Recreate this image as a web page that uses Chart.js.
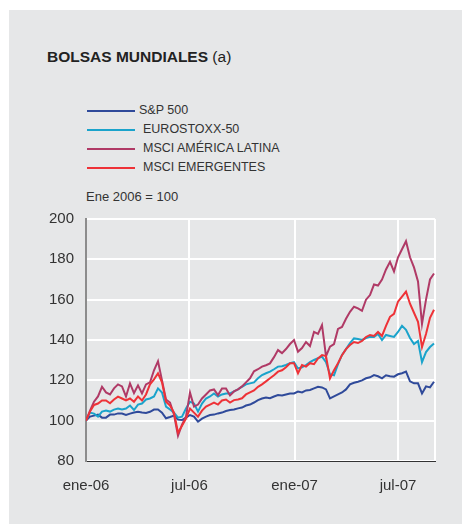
<!DOCTYPE html>
<html>
<head>
<meta charset="utf-8">
<script src="https://cdn.jsdelivr.net/npm/chart.js@4.4.0/dist/chart.umd.min.js"></script>
<style>
  html, body { margin: 0; padding: 0; background: #fff; }
  body { width: 462px; height: 524px; position: relative; overflow: hidden;
         font-family: "Liberation Sans", Arial, sans-serif; color: #333; }
  #panel { position: absolute; left: 9px; top: 10px; width: 453px; height: 514px; background: #e6e7e8; }
  #chartBox { position: absolute; left: 0; top: 0; width: 462px; height: 524px; }
  .title { position: absolute; left: 47px; top: 48px; font-size: 15.5px; color: #222; white-space: nowrap; }
  .title b { font-weight: bold; }
  .leg { position: absolute; left: 87px; font-size: 12.5px; white-space: nowrap; height: 14px; line-height: 14px; }
  .leg span.ln { display: inline-block; width: 48px; height: 2px; vertical-align: middle; margin-right: 4px; }
  .note { position: absolute; left: 86px; top: 189px; font-size: 13px; white-space: nowrap; }
</style>
</head>
<body>
<div id="panel"></div>
<div class="title"><b>BOLSAS MUNDIALES</b> (a)</div>
<div id="legend"></div>
<div class="note">Ene 2006 = 100</div>
<div id="chartBox"><canvas id="myChart" width="462" height="524"></canvas></div>
<script>
// weekly readings, week 0 = first week of Jan 2006
var spValues = [100,102,102.5,103,101.5,101.5,103,103,103.6,103.5,102.8,103.5,104,104.4,104,103.8,104.4,105.5,105.5,104,
  101.2,101.8,102.5,100.5,100.3,101.5,102.8,102,99.5,101,102,102.8,103,103.6,104,104.8,105.3,105.5,106.1,106.5,
  107.5,108,109,110.2,111,111.5,111.1,112,112.7,112.5,113,113.5,113.5,114.4,114,115,115.2,116,116.8,116.5,
  115.5,111,112,113,114,115.5,118,118.8,119.3,120,121,121.5,122.6,122,121,122.5,122,121.8,123,123.5,
  124.3,119.5,118.5,118.5,113.5,117,116.5,119.3];
var euroValues = [100,104,103.5,102,104.5,105,104.5,105.5,106,105.5,106,107.5,105.3,108,108.5,110.5,111,112,116,114,
  107,105.5,104,101.5,102,106,109.4,108.5,104.5,108.5,111,112,113.5,112,113,113.5,113.5,114.5,115.5,116.8,
  118,118.5,119,121,122.6,123.5,124.3,125.5,126.8,127,127.6,128.5,129,125.9,126.5,127.6,129,130.1,131,131.7,
  129,123,122.5,128,132.6,135.5,138.5,140.8,140.5,140,141,141.6,141.5,143,140,142.5,142,141.5,144,147,
  145,141,138,139.5,129,134,136.5,138.3];
var latamValues = [100,105,109.4,112,116.8,114,113,116,118,117,112,118.5,113.7,117.5,113.5,118,119,125,129.5,120,
  110.5,109,103,92.5,98,102,113.9,107,108,111,113,115,115.5,112.7,116,116,112.5,114.5,115.5,117,
  119,121,124.5,125.5,126.8,127.5,128.4,131.5,135,133.5,135.5,138,140,134.2,136,139,137,144,143,147.4,
  132,136.7,138,145.5,146.5,150.5,154,156.5,155.7,154.5,160,162.3,167.5,167,170,175,178.8,174,181,185,
  189,181,176,169,148,160,170,173];
var emergValues = [100,104.5,107.8,108.5,110,110,108.6,110.5,111.9,111,110,111,109.4,112,110,113,118,120.5,123.5,119,
  109.4,107.5,104,94,97.5,101,106,104,102,105,107,108,109,108,110,110.5,109,110.2,110.5,111.1,
  113,114,115,116.8,118,119.5,121,122.5,124.3,125,126.5,128.5,128.5,123.5,127.6,126.8,128.5,128,130.9,132.5,
  132,121,125,128.5,132.5,135.5,137.5,139,138.5,139.5,141.5,142.5,142,144,142,147,151.5,153,159,161.5,
  164,158,153.5,149,136.5,143,151,155];

var seriesNames = ['S&P 500', 'EUROSTOXX-50', 'MSCI AMÉRICA LATINA', 'MSCI EMERGENTES'];
var seriesColors = ['#2f4a9a', '#1aa3cb', '#b03a66', '#ee3237'];

// x ticks in weeks since 1 Jan 2006
var tickWeeks = [0, 181 / 7, 365 / 7, 546 / 7, 87.25];
var tickLabels = ['ene-06', 'jul-06', 'ene-07', 'jul-07', ''];
var yTicks = [80, 100, 120, 140, 160, 180, 200];

function toPoints(values) {
  return values.map(function (v, i) { return {x: i, y: v}; });
}

var allValues = [spValues, euroValues, latamValues, emergValues];

// html legend
var legendDiv = document.getElementById('legend');
var legendTops = [103, 122, 141, 160];
seriesNames.forEach(function (name, i) {
  var d = document.createElement('div');
  d.className = 'leg';
  d.style.top = legendTops[i] + 'px';
  d.innerHTML = '<span class="ln" style="background:' + seriesColors[i] + ';margin-right:' + (i === 0 ? 4 : 8) + 'px"></span>';
  d.appendChild(document.createTextNode(name));
  legendDiv.appendChild(d);
});

var datasets = seriesNames.map(function (name, i) {
  return {
    label: name,
    data: toPoints(allValues[i]),
    borderColor: seriesColors[i],
    borderWidth: 2,
    pointRadius: 0,
    tension: 0,
    fill: false,
    order: 4 - i
  };
});

var ctx = document.getElementById('myChart').getContext('2d');
var myChart = new Chart(ctx, {
  type: 'line',
  data: {datasets: datasets},
  options: {
    responsive: false,
    animation: false,
    layout: {padding: {top: 219, right: 27, left: 0, bottom: 0}},
    plugins: {legend: {display: false}, tooltip: {enabled: false}},
    scales: {
      x: {
        type: 'linear',
        min: 0,
        max: 87.25,
        afterFit: function (scale) { scale.height = 63; },
        afterBuildTicks: function (scale) {
          scale.ticks = tickWeeks.map(function (v) { return {value: v}; });
        },
        ticks: {
          autoSkip: false,
          maxRotation: 0,
          padding: 16,
          color: '#333',
          font: {family: '"Liberation Sans", Arial, sans-serif', size: 15},
          callback: function (value, index) { return tickLabels[index]; }
        },
        grid: {
          color: function (c) { return c.index === 0 ? 'rgba(0,0,0,0)' : '#ffffff'; },
          lineWidth: 2,
          drawTicks: false
        },
        border: {display: true, color: '#333', width: 1}
      },
      y: {
        min: 80,
        max: 200,
        afterFit: function (scale) { scale.width = 86; },
        afterBuildTicks: function (scale) {
          scale.ticks = yTicks.map(function (v) { return {value: v}; });
        },
        ticks: {
          padding: 12,
          color: '#333',
          font: {family: '"Liberation Sans", Arial, sans-serif', size: 15}
        },
        grid: {color: '#ffffff', lineWidth: 2, drawTicks: false},
        border: {display: true, color: '#8c8c8c', width: 2}
      }
    }
  }
});
</script>
</body>
</html>
